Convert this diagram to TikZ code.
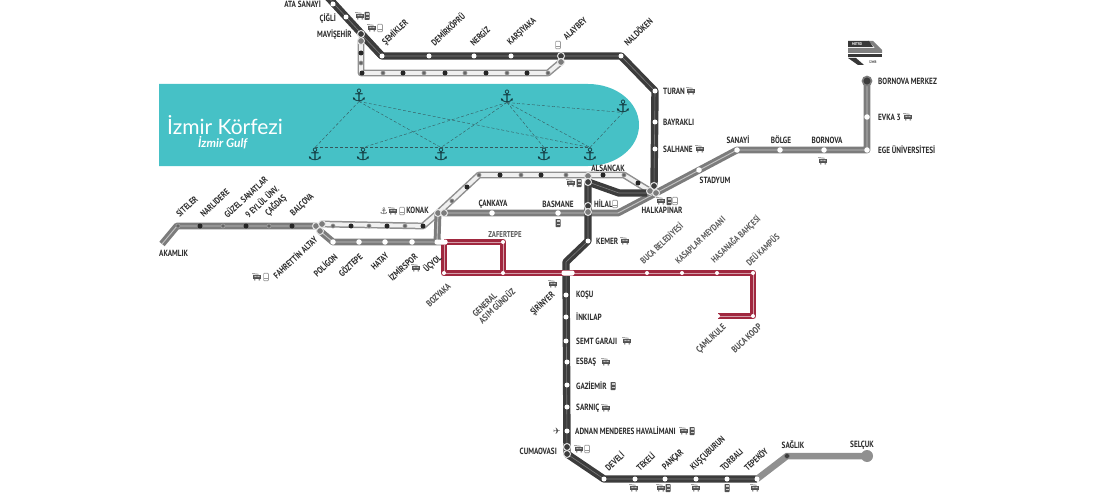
\documentclass[tikz,border=0pt]{standalone}
\usepackage{fontspec}
\setmainfont[FakeStretch=0.80]{PT Sans}
\newfontfamily\bayfont{Lato}
\newfontfamily\symfont{DejaVu Sans}
\usetikzlibrary{backgrounds}
\definecolor{baycol}{HTML}{46C1C6}
\definecolor{anchorcol}{HTML}{123A40}
\definecolor{darkcol}{HTML}{3C3C3C}
\definecolor{midcol}{HTML}{7C7C7C}
\definecolor{redcol}{HTML}{A0283F}
\definecolor{txtcol}{HTML}{2A2A2A}
\tikzset{
	darkline/.style={draw=darkcol,line width=3.4pt,double=midcol,double distance=0.6pt,line join=round},
	grayline/.style={draw=midcol,line width=3pt,double=midcol!45,double distance=0.9pt,line join=round},
	tramline/.style={draw=midcol!85,line width=1.5pt,double=white!94!black,double distance=3.8pt,line join=round},
	redline/.style={draw=redcol,line width=3pt,double=redcol!45,double distance=0.7pt,line join=round},
	station/.style={circle,fill=white,inner sep=0pt,minimum size=5pt},
	blackdot/.style={circle,fill=black!85,inner sep=0pt,minimum size=5pt},
	graydot/.style={circle,fill=black!60,draw=midcol!70,line width=0.6pt,inner sep=0pt,minimum size=4.2pt},
	xferdark/.style={circle,fill=darkcol,draw=white!90!black,line width=1pt,inner sep=0pt,minimum size=7pt},
	xfergray/.style={circle,fill=midcol,draw=white!90!black,line width=1pt,inner sep=0pt,minimum size=7pt},
	pillstop/.style={rectangle,rounded corners=2pt,fill=white,inner sep=0pt,minimum width=13pt,minimum height=5pt},
	stlabel/.style={text=txtcol,inner sep=0pt,font=\fontsize{9}{9}\selectfont\bfseries},
	uplabel/.style={stlabel,rotate=43,anchor=south west},
	downlabel/.style={stlabel,rotate=43,anchor=north east},
	redup/.style={uplabel,text=black!65,font=\fontsize{9}{9}\selectfont\bfseries},
	reddown/.style={downlabel,text=black!70,font=\fontsize{9.2}{9.5}\selectfont\bfseries},
	harbour/.style={text=anchorcol,inner sep=0pt,font=\symfont\fontsize{17}{17}\selectfont},
	searoute/.style={draw=anchorcol!85,densely dashed,line width=0.4pt},
	busicon/.pic={
		\fill[black!68] (-3.6,-2) rectangle (3.6,2.4);
		\fill[black!25] (-2.7,-1.2) rectangle (-0.3,0.2) (0.3,-1.2) rectangle (2.7,0.2);
		\draw[black!55,line width=0.7pt] (-4.8,-3.4) -- (1.5,-2.8);
		\fill[black!68] (-3,2.4) rectangle (-1.6,3.4) (1.6,2.4) rectangle (3,3.4);
	},
	metroicon/.pic={
		\fill[black!68,rounded corners=0.6pt] (-2.5,-4) rectangle (2.5,4);
		\fill[black!20] (-1.5,-2.6) rectangle (1.5,-0.8);
		\fill[black!20] (-1.5,0.8) rectangle (1.5,1.4);
	},
	railicon/.pic={
		\draw[black!40,fill=white,line width=0.7pt,rounded corners=0.8pt] (-2.4,-3.8) rectangle (2.4,3.8);
		\draw[black!40,line width=0.5pt] (-2.4,0.8) -- (2.4,0.8);
	},
}
\begin{document}
\begin{tikzpicture}[x=1pt,y=-1pt]
	\useasboundingbox (0,0) rectangle (1100,500);

	% north-south stops
	\foreach \sname/\xc/\yc in {ataSanayi/333/4,cigli/346/17,semikler/382/56,demirkopru/429/56,nergiz/474/56,karsiyaka/511/56,naldoken/621/56,turan/655/91,bayrakli/655/122,salhane/655/149,kemer/588/241,kosu/566/295,inkilap/566/317,semtGaraji/566/341,esbas/567/362,gaziemir/567/385,sarnic/567/407,havalimani/567/431,develi/604/479,tekeli/635/479,pancar/665/479,kuscuburun/696/479,torbali/727/479,tepekoy/757/479}
	{
	\node[station] (\sname) at (\xc,\yc) {};
	}

	% gray line stops
	\foreach \sname/\xc/\yc in {poligon/333/242,goztepe/359/242,hatay/385/242,izmirspor/412/242,cankaya/492/213,basmane/558/213,stadyum/699/170,sanayi/737/150,bolge/780/150,bornova/824/150,egeUni/867/150,evka/867/117}
	{
	\node[station,minimum size=5.5pt] (\sname) at (\xc,\yc) {};
	}

	% red line stops
	\foreach \sname/\xc/\yc in {zafertepe/503/242,bozyaka/444/273,asimGunduz/503/273,bucaBel/647/273,kasaplar/682/273,hasanaga/717/273,deuKampus/753/273,bucaKoop/753/316,camlikule/718/316}
	{
	\node[station,minimum size=4pt] (\sname) at (\xc,\yc) {};
	}
	\node[pillstop] (ucyol) at (441,242) {};
	\node[pillstop] (sirinyer) at (568,273) {};

	% transfers
	\node[xferdark] (mavisehirA) at (361,34) {};
	\node[xfergray] (mavisehirB) at (361,41) {};
	\node[xferdark] (alaybeyA) at (561,56) {};
	\node[xfergray] (alaybeyB) at (561,62) {};
	\node[xfergray] (altayA) at (316,226) {};
	\node[xfergray] (altayB) at (322,224) {};
	\node[xfergray] (altayC) at (320,231) {};
	\node[xfergray] (konakA) at (438,213) {};
	\node[xfergray] (konakB) at (444,213) {};
	\node[xfergray] (alsancakA) at (588,176) {};
	\node[xferdark] (alsancakB) at (588,182) {};
	\node[xferdark] (hilalA) at (588,206) {};
	\node[xfergray] (hilalB) at (588,212) {};
	\node[xferdark] (halkaA) at (654,186) {};
	\node[xfergray] (halkaB) at (650,191) {};
	\node[xfergray] (halkaC) at (656,193) {};
	\node[xferdark] (cumaA) at (567,447) {};
	\node[xferdark] (cumaB) at (567,454) {};
	\node[xferdark,minimum size=5pt,line width=0.5pt,draw=midcol] (saglik) at (787,456) {};
	\node[xferdark,minimum size=9pt,draw=midcol,line width=1.6pt] (bornovaMerkez) at (867,81) {};
	\node[circle,fill=midcol!85,inner sep=0pt,minimum size=12pt] (selcuk) at (867,456) {};

	% line bends
	\coordinate (topEnd) at (325,-6);
	\coordinate (ringCorner) at (361,73);
	\coordinate (ringEnd) at (548,73);
	\coordinate (westEnd) at (162,244);
	\coordinate (westBend) at (177,226);
	\coordinate (tramMid) at (479,175);
	\coordinate (tramEast) at (624,175);
	\coordinate (grayBend) at (618,213);
	\coordinate (ucyolTop) at (437,242);
	\coordinate (southBendA) at (566,262);
	\coordinate (branchA) at (619,193);
	\coordinate (branchB) at (647,193);
	\coordinate (redTopLeft) at (444,242);
	\coordinate (redTopRight) at (503,242);

	\begin{scope}[on background layer]
	\fill[baycol] (159,84) -- (588,84) .. controls (616,84) and (639,102) .. (639,125) .. controls (639,148) and (616,166) .. (588,166) -- (159,166) -- cycle;

	\draw[tramline] (mavisehirB.center) -- (ringCorner) -- (ringEnd) -- (alaybeyB.center);
	\draw[tramline] (altayB.center) -- (423,226) -- (konakA.center) -- (tramMid) -- (tramEast) -- (halkaB.center);

	\draw[grayline] (westEnd) -- (westBend) -- (altayA.center);
	\draw[grayline] (altayC.center) -- (poligon.center) -- (ucyol.center);
	\draw[grayline] (ucyolTop) -- (konakA.center);
	\draw[grayline] (konakB.center) -- (grayBend) -- (halkaC.center) -- (sanayi.center) -- (egeUni.center) -- (bornovaMerkez.center);

	\draw[darkline] (topEnd) -- (semikler.center) -- (naldoken.center) -- (turan.center) -- (halkaA.center);
	\draw[darkline] (mavisehirA.center) -- (semikler.center);
	\draw[darkline] (alsancakB.center) -- (kemer.center) -- (southBendA) -- (cumaB.center) -- (develi.center) -- (tepekoy.center);
	\draw[darkline] (alsancakB.center) -- (branchA) -- (branchB);

	\draw[draw=midcol!85,line width=6.5pt] (tepekoy.center) -- (saglik.center) -- (selcuk.center);

	\draw[redline] (redTopLeft) -- (bozyaka.center) -- (deuKampus.center) -- (bucaKoop.center) -- (camlikule.center);
	\draw[redline] (redTopLeft) -- (redTopRight) -- (asimGunduz.center);
	\end{scope}

	% tram dots
	\foreach \sname/\xc/\yc/\dotstyle in {ra/361/53/blackdot,rb/361/63/graydot,rc/362/73/blackdot,rd/383/73/graydot,re/403/73/blackdot,rf/424/73/graydot,rg/445/73/blackdot,rh/465/73/graydot,ri/486/73/blackdot,rj/507/73/graydot,rk/527/73/blackdot,rl/548/73/graydot,
	ka/333/226/graydot,kb/351/226/blackdot,kc/369/226/graydot,kd/387/226/blackdot,ke/405/226/graydot,kf/423/226/blackdot,
	ta/452/201/graydot,tb/467/187/blackdot,tc/479/175/graydot,td/500/175/blackdot,te/521/175/graydot,tf/541/175/blackdot,tg/566/175/graydot,th/603/175/blackdot,ti/624/175/graydot,tj/638/183/blackdot,
	wa/178/226/graydot,wb/200/226/blackdot,wc/223/226/graydot,wd/246/226/blackdot,we/269/226/graydot,wf/292/226/blackdot}
	{
	\node[\dotstyle] (\sname) at (\xc,\yc) {};
	}

	% gulf
	\node[text=white,inner sep=0pt,anchor=west,font=\bayfont\fontsize{21}{21}\selectfont] (gulfName) at (167,125) {İzmir Körfezi};
	\node[text=white,inner sep=0pt,anchor=west,font=\bayfont\bfseries\itshape\fontsize{12}{12}\selectfont] (gulfSub) at (198,143) {İzmir Gulf};

	\node[harbour] (portA) at (359,95) {⚓};
	\node[harbour] (portB) at (507,96) {⚓};
	\node[harbour] (portC) at (623,106) {⚓};
	\node[harbour] (portD) at (315,154) {⚓};
	\node[harbour] (portE) at (363,154) {⚓};
	\node[harbour] (portF) at (441,154) {⚓};
	\node[harbour] (portG) at (544,154) {⚓};
	\node[harbour] (portH) at (590,154) {⚓};

	\draw[searoute] (portA.south) -- (portD.north);
	\draw[searoute] (portA.south) -- (portF.north);
	\draw[searoute] (portA.south) -- (portH.north);
	\draw[searoute] (portB.south) -- (portE.north);
	\draw[searoute] (portB.south) -- (portF.north);
	\draw[searoute] (portB.south) -- (portG.north);
	\draw[searoute] (portB.south) -- (portH.north);
	\draw[searoute] (portB.south) -- (portC.south);
	\draw[searoute] (portC.south) -- (portH.north);
	\draw[searoute] (portD.north) -- (portH.north);

	% labels, horizontal
	\node[stlabel,anchor=east] (lataSanayi) at (321,4) {ATA SANAYİ};
	\node[stlabel,anchor=east] (lcigli) at (336,19) {ÇİĞLİ};
	\node[stlabel,anchor=east] (lmavisehir) at (352,35) {MAVİŞEHİR};
	\node[stlabel,anchor=east] (lkonak) at (429,210) {KONAK};
	\node[stlabel,anchor=east] (lcuma) at (557,451) {CUMAOVASI};
	\foreach \sname/\xc/\yc/\txt in {lturan/663/91/TURAN,lbayrakli/663/122/BAYRAKLI,lsalhane/663/149/SALHANE,lmerkez/878/81/BORNOVA MERKEZ,levka/878/117/EVKA 3,lege/878/150/EGE ÜNİVERSİTESİ,lhilal/594/204/HİLAL,lkemer/596/241/KEMER,lkosu/576/295/KOŞU,linkilap/576/317/İNKILAP,lsemt/576/341/SEMT GARAJI,lesbas/576/362/ESBAŞ,lgaziemir/576/386/GAZİEMİR,lsarnic/576/408/SARNIÇ,ladnan/575/431/ADNAN MENDERES HAVALİMANI,lbak/159/253/AKAMLIK}
	{
	\node[stlabel,anchor=west] (\sname) at (\xc,\yc) {\txt};
	}
	\foreach \sname/\xc/\yc/\txt in {lsanayi/738/140/SANAYİ,lbolge/781/140/BÖLGE,lbornova/827/140/BORNOVA,lstadyum/715/180/STADYUM,lcankaya/493/204/ÇANKAYA,lbasmane/558/204/BASMANE,lalsancak/608/168/ALSANCAK,lhalka/662/210/HALKAPINAR,lsaglik/793/445/SAĞLIK,lselcuk/862/445/SELÇUK}
	{
	\node[stlabel] (\sname) at (\xc,\yc) {\txt};
	}
	\node[stlabel,text=black!65,font=\fontsize{8.5}{8.5}\selectfont\bfseries] (lzafer) at (505,234) {ZAFERTEPE};

	% labels, slanted up
	\foreach \sname/\xc/\yc/\txt in {lsemikler/387/47/ŞEMİKLER,ldemir/435/47/DEMİRKÖPRÜ,lnergiz/474/47/NERGİZ,lkarsi/512/47/KARŞIYAKA,lalaybey/567/41/ALAYBEY,lnaldoken/628/47/NALDÖKEN,lsiteler/180/218/SİTELER,lnarli/204/218/NARLIDERE,lguzel/228/219/GÜZEL SANATLAR,leylul/249/219/9 EYLÜL ÜNV.,lcagdas/270/218/ÇAĞDAŞ,lbalcova/295/218/BALÇOVA,ldeveli/609/472/DEVELİ,ltekeli/640/472/TEKELİ,lpancar/667/472/PANÇAR,lkuscu/695/472/KUŞÇUBURUN,ltorbali/724/472/TORBALI,ltepekoy/748/472/TEPEKÖY}
	{
	\node[uplabel] (\sname) at (\xc,\yc) {\txt};
	}
	\foreach \sname/\xc/\yc/\txt in {lbuca/644/265/BUCA BELEDİYESİ,lkasaplar/679/265/KASAPLAR MEYDANI,lhasanaga/716/265/HASANAĞA BAHÇESİ,ldeu/750/267/DEÜ KAMPÜS}
	{
	\node[redup] (\sname) at (\xc,\yc) {\txt};
	}

	% labels, slanted down
	\foreach \sname/\xc/\yc/\txt in {lfahrettin/313/235/FAHRETTİN ALTAY,lpoligon/333/252/POLİGON,lgoztepe/358/252/GÖZTEPE,lhatay/385/252/HATAY,lizmirspor/413/252/İZMİRSPOR,lucyol/437/253/ÜÇYOL,lsirinyer/550/290/ŞİRİNYER}
	{
	\node[downlabel] (\sname) at (\xc,\yc) {\txt};
	}
	\foreach \sname/\xc/\yc/\txt in {lbozyaka/447/282/BOZYAKA,lcamlikule/722/323/ÇAMLIKULE,lbucakoop/758/323/BUCA KOOP}
	{
	\node[reddown] (\sname) at (\xc,\yc) {\txt};
	}
	\node[reddown,align=left] (lasim) at (505,281) {GENERAL\\ASIM GÜNDÜZ};

	% transfer icons
	\foreach \xc/\yc in {360/16,372/28,691/91,700/149,823/161,908/117,393/211,257/277,416/268,571/183,661/201,625/241,553/284,627/341,606/362,606/408,684/431,579/449,634/488,661/488,696/488,755/488}
	{
	\pic at (\xc,\yc) {busicon};
	}
	\foreach \xc/\yc in {367/16,579/183,669/201,558/223,613/386,692/431,668/488,727/488}
	{
	\pic at (\xc,\yc) {metroicon};
	}
	\foreach \xc/\yc in {380/28,558/45,402/211,266/277,615/204,675/201,587/449}
	{
	\pic at (\xc,\yc) {railicon};
	}
	\node[text=black!70,inner sep=0pt,font=\symfont\fontsize{9}{9}\selectfont] (konakPort) at (384,211) {⚓};
	\node[text=black!70,inner sep=0pt,font=\symfont\fontsize{9}{9}\selectfont] (airport) at (557,431) {✈};

	% logo
	\fill[black!50] (868,41) -- (873,41) -- (882,50) -- (882,53) -- (848,53) -- (848,48) -- (875,48) -- cycle;
	\fill[black!78] (848,41) -- (869,41) -- (873,47) -- (848,47) -- cycle;
	\fill[black!78] (848,54) -- (882,54) -- (882,57) -- (848,57) -- cycle;
	\fill[black!78] (848,58) -- (856,58) -- (864,65) -- (858,65) -- cycle;
	\node[text=white,inner sep=0pt,font=\fontsize{4}{4}\selectfont\bfseries] (logoTop) at (857,44) {METRO};
	\node[text=black!75,inner sep=0pt,font=\fontsize{3.5}{4}\selectfont\bfseries] (logoBottom) at (873,62) {İZMİR};
\end{tikzpicture}
\end{document}
